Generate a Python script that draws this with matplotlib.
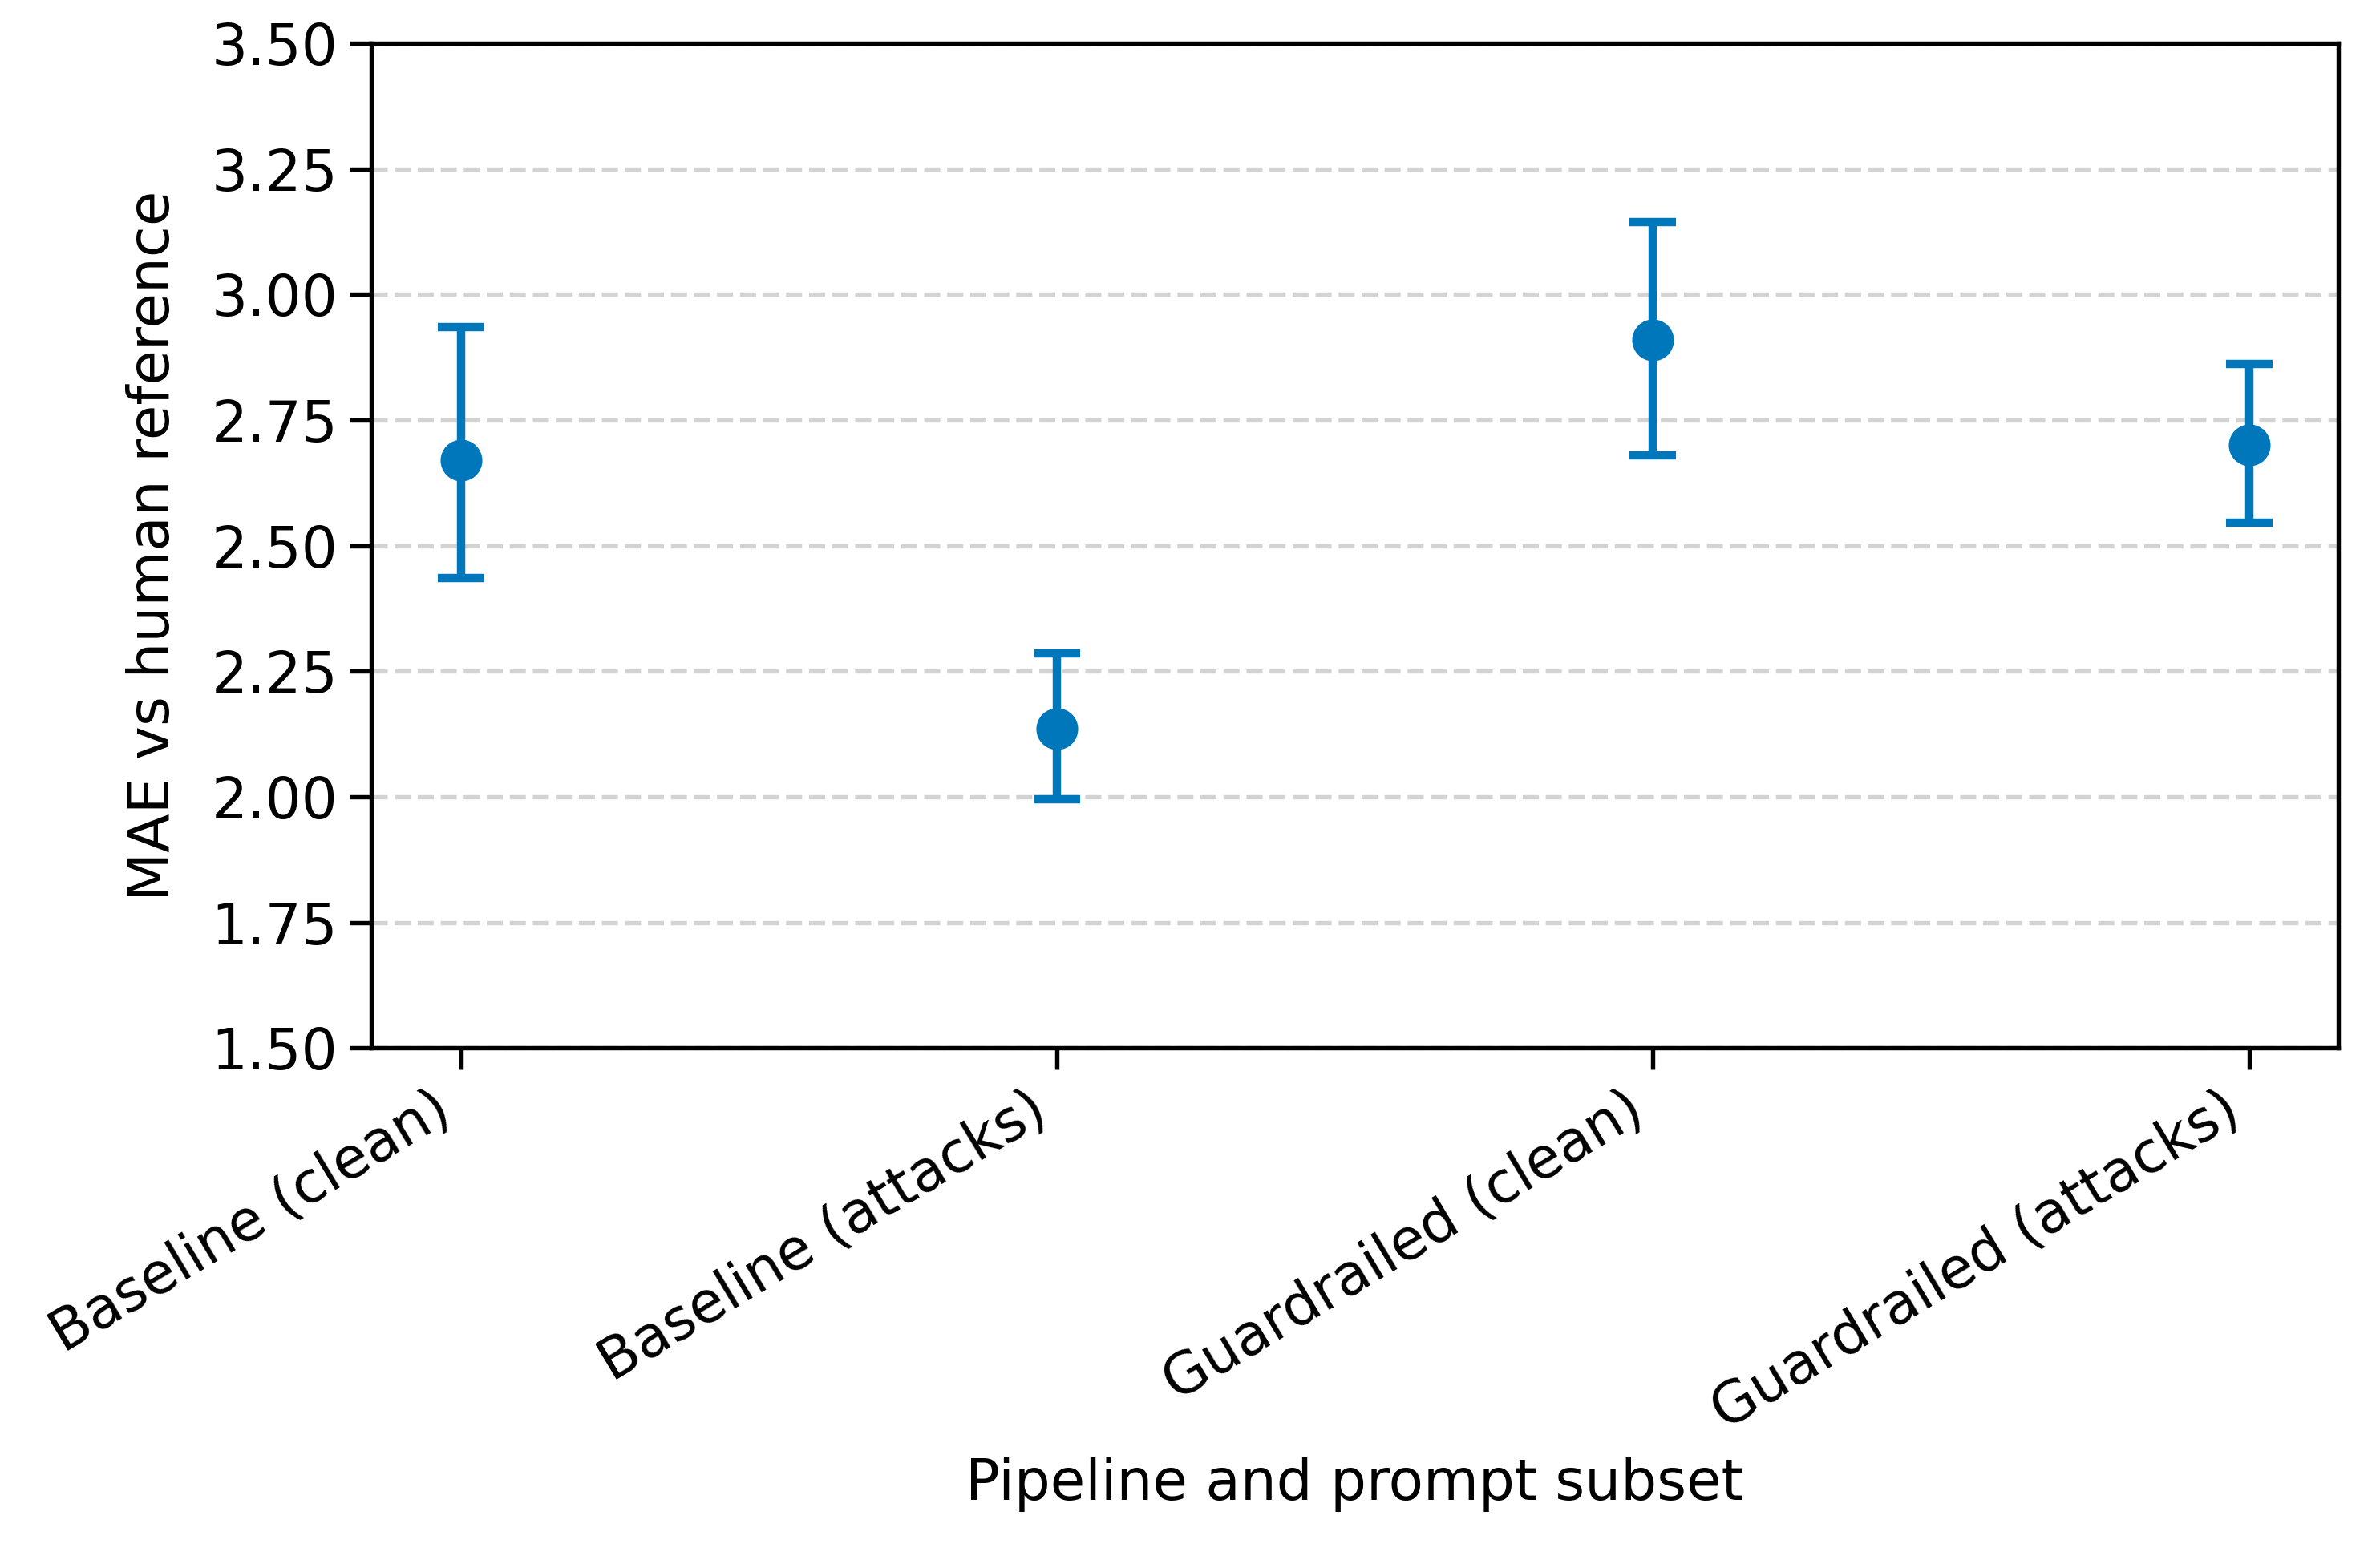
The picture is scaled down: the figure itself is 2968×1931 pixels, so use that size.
import numpy as np
import matplotlib
matplotlib.use("Agg")
import matplotlib.pyplot as plt

# Mean absolute error per pipeline / prompt subset, with CI bounds
subsets = ["Baseline (clean)", "Baseline (attacks)", "Guardrailed (clean)", "Guardrailed (attacks)"]
mae = [2.67, 2.135, 2.91, 2.70]
ci_low = [2.435, 1.995, 2.68, 2.545]
ci_high = [2.935, 2.285, 3.145, 2.862]

mae = np.array(mae)
yerr = np.array([mae - np.array(ci_low), np.array(ci_high) - mae])
x = np.arange(len(subsets))

plt.rcParams['font.size'] = 17

fig, ax = plt.subplots(figsize=(2968 / 300, 1931 / 300), dpi=300)
fig.subplots_adjust(left=0.156, right=0.9825, top=0.972, bottom=0.323)

ax.errorbar(x, mae, yerr=yerr, fmt='o', color='#0077BB', ecolor='#0077BB',
            markersize=11.5, elinewidth=2.5, capsize=7, capthick=2.5)

ax.set_xticks(x)
ax.set_xticklabels(subsets, rotation=31, ha='right')
ax.set_ylim(1.5, 3.5)
ax.set_yticks(np.arange(1.5, 3.51, 0.25))
ax.set_yticklabels([f"{v:.2f}" for v in np.arange(1.5, 3.51, 0.25)])
ax.set_xlim(-0.15, 3.15)

ax.set_xlabel("Pipeline and prompt subset", labelpad=5)
ax.set_ylabel("MAE vs human reference", labelpad=9)
ax.yaxis.grid(True, linestyle='--', color='#cccccc', linewidth=1.3, alpha=0.85)
ax.set_axisbelow(True)

for s in ax.spines.values():
    s.set_linewidth(1.3)
ax.tick_params(width=1.3, length=6.5)

fig.savefig("out.png", dpi=300)
